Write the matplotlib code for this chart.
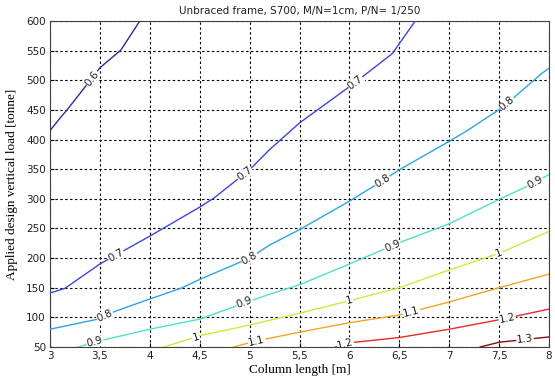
import numpy as np
import matplotlib
matplotlib.use("Agg")
import matplotlib.pyplot as plt

# Contour lines: level -> (x [m], y [tonne])
levels = ["0.6", "0.7", "0.8", "0.9", "1", "1.1", "1.2", "1.3"]

x_06 = [3.0, 3.1, 3.18, 3.39, 3.5, 3.71, 3.9]
y_06 = [415, 436, 452, 497, 521, 551, 600]

x_07 = [3.0, 3.15, 3.5, 4.0, 4.5, 4.64, 5.0, 5.2, 5.5, 6.04, 6.43, 6.66]
y_07 = [141, 149, 190, 237, 286, 301, 349, 383, 428, 494, 545, 600]

x_08 = [3.0, 3.48, 3.65, 4.0, 4.31, 4.5, 5.0, 5.2, 5.5, 6.0, 6.3, 6.5, 7.0, 7.18, 7.54, 7.93, 8.0]
y_08 = [80, 97, 110, 131, 149, 164, 200, 222, 248, 296, 327, 349, 397, 415, 455, 512, 520]

x_09 = [3.28, 3.54, 4.0, 4.5, 4.91, 5.2, 5.5, 6.0, 6.5, 7.0, 7.5, 7.83, 8.0]
y_09 = [50, 62, 80, 97, 122, 139, 155, 190, 226, 258, 299, 325, 341]

x_10 = [4.14, 4.5, 5.0, 5.5, 6.0, 6.5, 7.0, 7.5, 8.0]
y_10 = [50, 69, 87, 107, 128, 150, 180, 208, 245]

x_11 = [4.84, 5.06, 5.5, 6.0, 6.5, 7.0, 7.5, 8.0]
y_11 = [50, 60, 75, 91, 104, 126, 150, 173]

x_12 = [5.86, 6.0, 6.5, 7.0, 7.5, 8.0]
y_12 = [50, 57, 66, 80, 96, 114]

x_13 = [7.31, 7.5, 8.0]
y_13 = [50, 58, 67]

# label positions (x) on each contour
lab_06 = [3.42]
lab_07 = [3.66, 4.95, 6.06]
lab_08 = [3.55, 5.0, 6.33, 7.58]
lab_09 = [3.45, 4.95, 6.43, 7.86]
lab_10 = [4.46, 6.0, 7.5]
lab_11 = [5.07, 6.62]
lab_12 = [5.96, 7.58]
lab_13 = [7.76]

xticks = [3, 3.5, 4, 4.5, 5, 5.5, 6, 6.5, 7, 7.5, 8]
xticklabels = ["3", "3,5", "4", "4,5", "5", "5,5", "6", "6,5", "7", "7,5", "8"]
yticks = [50, 100, 150, 200, 250, 300, 350, 400, 450, 500, 550, 600]

colors = ["#2c2c9c", "#3e46d4", "#2aa6e4", "#52e0c6",
          "#c9ec3e", "#f4a424", "#e62a2a", "#8a0c0c"]

curves = [(x_06, y_06, lab_06), (x_07, y_07, lab_07), (x_08, y_08, lab_08),
          (x_09, y_09, lab_09), (x_10, y_10, lab_10), (x_11, y_11, lab_11),
          (x_12, y_12, lab_12), (x_13, y_13, lab_13)]

fig = plt.figure(figsize=(5.55, 3.79), dpi=100)
ax = fig.add_axes([50 / 555, 1 - 347 / 379, 499 / 555, 326 / 379])
ax.set_xlim(3, 8)
ax.set_ylim(50, 600)
ax.set_xticks(xticks)
ax.set_xticklabels(xticklabels)
ax.set_yticks(yticks)
ax.grid(True, color="black", linestyle=(0, (2.2, 2.2)), linewidth=0.8)
ax.set_axisbelow(True)
ax.tick_params(direction="in", length=3, labelsize=7.5, pad=3,
               labelcolor="#202020")
for lbl in ax.get_xticklabels() + ax.get_yticklabels():
    lbl.set_fontfamily("DejaVu Sans")
for s in ax.spines.values():
    s.set_linewidth(0.8)
    s.set_color("#404040")

for (xs, ys, labs), c, lev in zip(curves, colors, levels):
    ax.plot(xs, ys, color=c, linewidth=1.0, zorder=3)
    for lx in labs:
        ly = np.interp(lx, xs, ys)
        p1 = ax.transData.transform((lx - 0.05, np.interp(lx - 0.05, xs, ys)))
        p2 = ax.transData.transform((lx + 0.05, np.interp(lx + 0.05, xs, ys)))
        ang = np.degrees(np.arctan2(p2[1] - p1[1], p2[0] - p1[0]))
        ax.text(lx, ly, lev, rotation=ang, rotation_mode="anchor",
                ha="center", va="center", fontsize=7.5,
                family="DejaVu Sans", color="#202020", zorder=4,
                bbox=dict(facecolor="white", edgecolor="none", pad=0.3),
                clip_on=True)

ax.set_title("Unbraced frame, S700, M/N=1cm, P/N= 1/250", fontsize=7.5,
             family="DejaVu Sans", pad=5, color="#202020")
ax.set_xlabel("Column length [m]", fontsize=9.5, family="Liberation Serif",
              labelpad=2)
ax.set_ylabel("Applied design vertical load [tonne]", fontsize=9.5,
              family="Liberation Serif", labelpad=6)

fig.savefig("out.png", dpi=100)
